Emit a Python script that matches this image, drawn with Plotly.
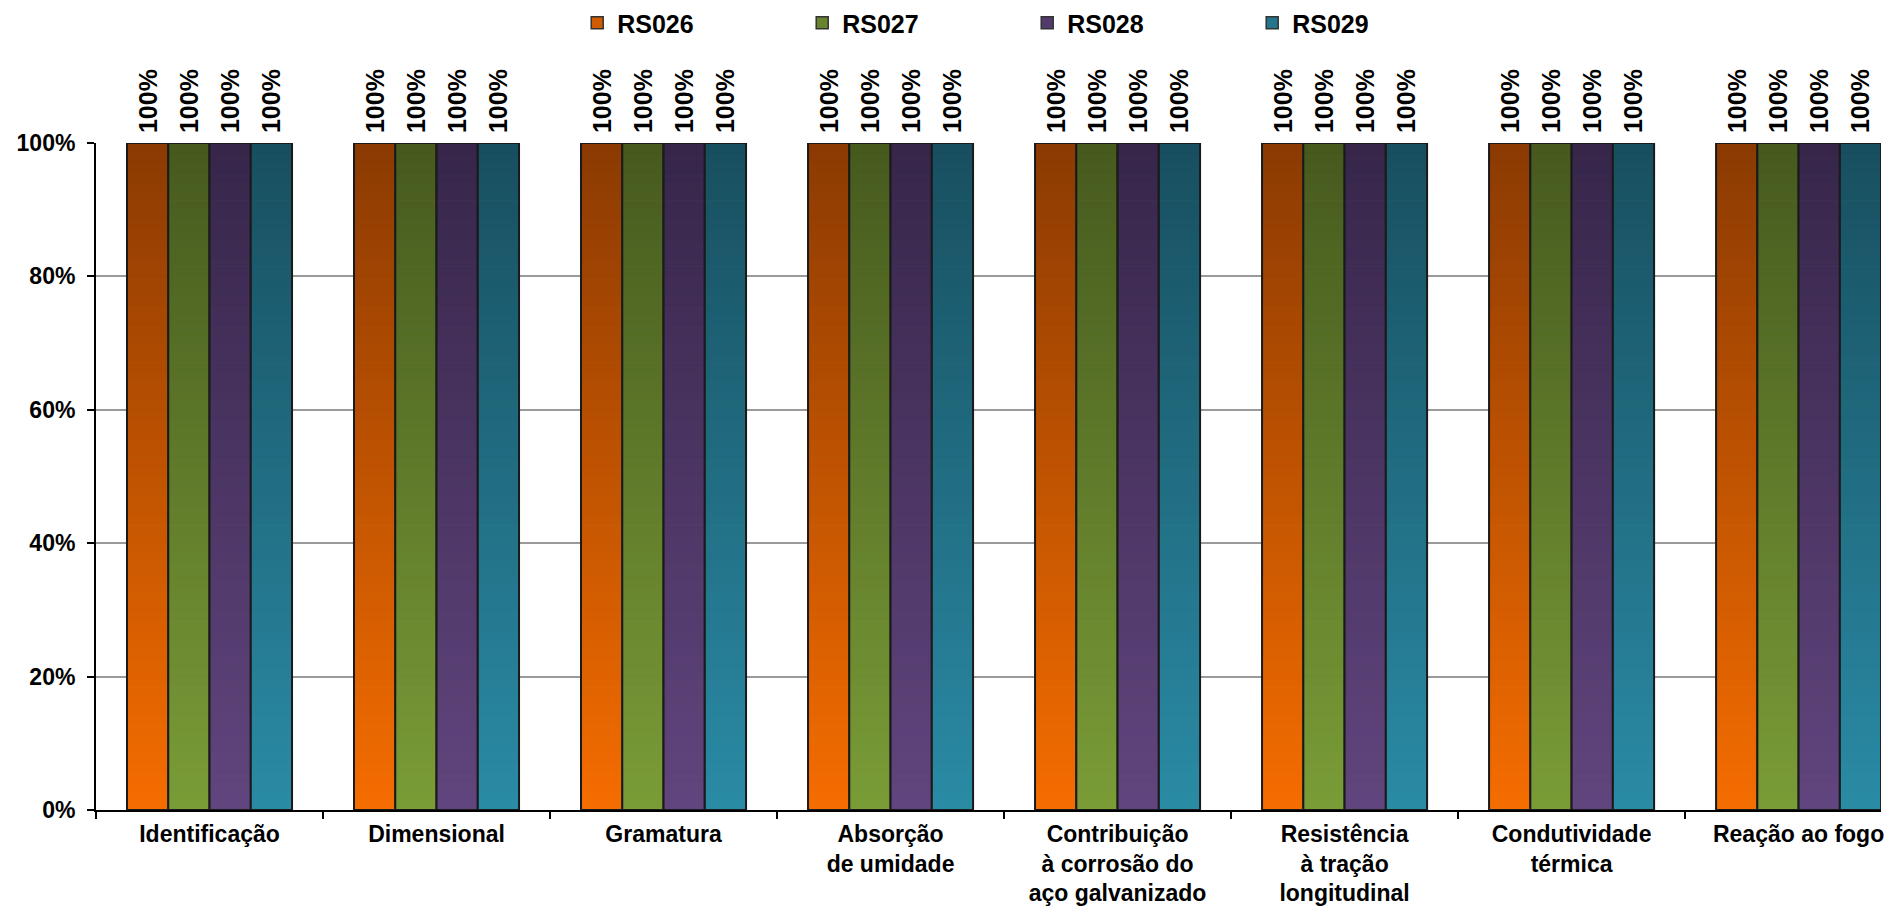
import plotly.graph_objects as go

# Test categories (x axis) and share of compliant samples per product, in %
categories = [
    "Identificação",
    "Dimensional",
    "Gramatura",
    "Absorção<br>de umidade",
    "Contribuição<br>à corrosão do<br>aço galvanizado",
    "Resistência<br>à tração<br>longitudinal",
    "Condutividade<br>térmica",
    "Reação ao fogo",
]
series_names = ["RS026", "RS027", "RS028", "RS029"]
rs026 = [100, 100, 100, 100, 100, 100, 100, 100]
rs027 = [100, 100, 100, 100, 100, 100, 100, 100]
rs028 = [100, 100, 100, 100, 100, 100, 100, 100]
rs029 = [100, 100, 100, 100, 100, 100, 100, 100]
y_ticks = [0, 20, 40, 60, 80, 100]
y_tick_labels = ["0%", "20%", "40%", "60%", "80%", "100%"]

# Gradient end colours (bottom, top) for each series
grad_bottom = ["#F56D00", "#7A9C37", "#61457E", "#2A8BA6"]
grad_top = ["#8B3A02", "#465A1E", "#37264A", "#184F5F"]

FONT = "Liberation Sans, Arial, sans-serif"
N_SLICES = 70


def hex_to_rgb(h):
    h = h.lstrip("#")
    return tuple(int(h[i:i + 2], 16) for i in (0, 2, 4))


def mix(c0, c1, t):
    a, b = hex_to_rgb(c0), hex_to_rgb(c1)
    return "rgb(%d,%d,%d)" % tuple(round(a[i] + (b[i] - a[i]) * t) for i in range(3))


fig = go.Figure()
all_series = [rs026, rs027, rs028, rs029]

for k, (name, vals) in enumerate(zip(series_names, all_series)):
    grp = str(k)
    # vertical gradient fill built from thin stacked slices of each bar
    for j in range(N_SLICES):
        t = (j + 0.5) / N_SLICES
        col = mix(grad_bottom[k], grad_top[k], t)
        fig.add_trace(go.Bar(
            x=categories,
            y=[v / N_SLICES for v in vals],
            base=[v * j / N_SLICES for v in vals],
            offsetgroup=grp,
            marker=dict(color=col, line=dict(width=1, color=col)),
            showlegend=False,
            hoverinfo="skip",
            legendgroup=name,
        ))
    # outlined bar carrying the value label
    fig.add_trace(go.Bar(
        x=categories,
        y=vals,
        offsetgroup=grp,
        name=name,
        marker=dict(color="rgba(0,0,0,0)", line=dict(color="#1a1a1a", width=2)),
        text=["\u00a0%d%%" % v for v in vals],
        texttemplate="%{text}",
        textposition="outside",
        textangle=-90,
        constraintext="none",
        cliponaxis=False,
        textfont=dict(family=FONT, size=25, color="black", weight="bold"),
        showlegend=False,
        legendgroup=name,
    ))
    # legend entry
    fig.add_trace(go.Bar(
        x=[None],
        y=[None],
        offsetgroup=grp,
        name=name,
        marker=dict(color=mix(grad_bottom[k], grad_top[k], 0.35), line=dict(color="#333333", width=1.5)),
        showlegend=True,
        legendgroup=name,
    ))

fig.update_layout(
    width=1890,
    height=906,
    barmode="group",
    bargap=0.273,
    bargroupgap=0,
    plot_bgcolor="white",
    paper_bgcolor="white",
    margin=dict(l=96, r=9, t=143, b=96, autoexpand=False),
    font=dict(family=FONT, size=24, color="black", weight="bold"),
    legend=dict(
        orientation="h",
        xref="container",
        yref="container",
        x=0.3054,
        y=1.0,
        xanchor="left",
        yanchor="top",
        entrywidth=180,
        entrywidthmode="pixels",
        font=dict(family=FONT, size=25, color="black", weight="bold"),
        itemclick=False,
        itemdoubleclick=False,
        traceorder="normal",
    ),
    showlegend=True,
)

fig.update_xaxes(
    type="category",
    range=[-0.5, 7.363],
    showgrid=False,
    showline=True,
    linecolor="black",
    linewidth=2,
    ticks="outside",
    tickson="boundaries",
    ticklen=7,
    tickwidth=1.5,
    tickcolor="black",
    ticklabelstandoff=2,
    tickfont=dict(family=FONT, size=23, color="black", weight="bold"),
    automargin=False,
)

fig.update_yaxes(
    range=[0, 100],
    tickvals=y_ticks,
    ticktext=y_tick_labels,
    showgrid=True,
    gridcolor="#9a9a9a",
    gridwidth=1.5,
    zeroline=False,
    showline=True,
    linecolor="black",
    linewidth=2,
    ticks="outside",
    ticklen=7,
    tickwidth=1.5,
    tickcolor="black",
    ticklabelstandoff=7,
    tickfont=dict(family=FONT, size=23, color="black", weight="bold"),
    automargin=False,
)

fig.write_html("out.html")
